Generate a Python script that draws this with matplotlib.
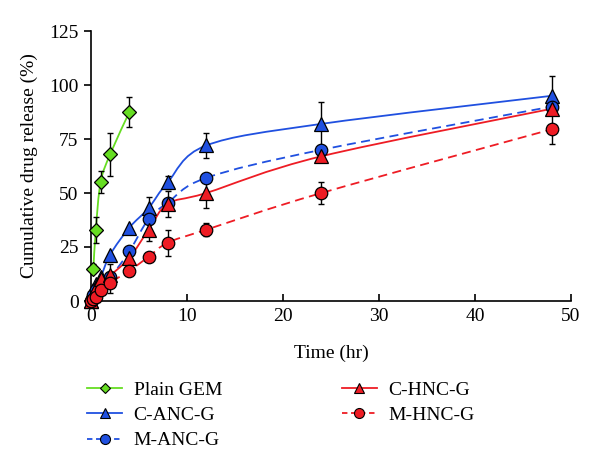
import numpy as np
import matplotlib
matplotlib.use("Agg")
import matplotlib.pyplot as plt
from matplotlib.path import Path
from matplotlib.patches import PathPatch
from matplotlib.lines import Line2D

plt.rcParams['font.family'] = ['Liberation Serif', 'DejaVu Serif']

# ---- data ----
t_gem = [0.25, 0.5, 1, 2, 4]
v_gem = [15, 33, 55, 68, 87.5]
e_gem = [2, 6, 5, 10, 7]

t_all = [0, 0.25, 0.5, 1, 2, 4, 6, 8, 12, 24, 48]
v_canc = [0, 5, 8, 11, 21.5, 34, 43, 55, 72, 82, 95]
e_canc = [0, 0, 0, 0, 0, 0, 5, 3, 6, 10, 9]
v_manc = [0, 3, 5, 8, 11, 23, 38, 45.5, 57, 70, 90]
e_manc = [0, 0, 0, 0, 0, 0, 0, 0, 0, 0, 0]
v_chnc = [0, 3, 6, 10, 12, 20, 33, 45, 50, 67, 89]
e_chnc = [0, 0, 0, 0, 5, 0, 5, 6, 7, 0, 0]
v_mhnc = [0, 1, 2, 5, 8.5, 14, 20.5, 27, 33, 50, 79.5]
e_mhnc = [0, 0, 0, 0, 5, 0, 0, 6, 3, 5, 7]

GREEN = '#66dd22'
BLUE = '#2050e0'
RED = '#ee1c24'


def smooth_path(x, y):
    x = np.asarray(x, float); y = np.asarray(y, float)
    n = len(x)
    verts = [(x[0], y[0])]
    codes = [Path.MOVETO]
    for i in range(n - 1):
        p0 = np.array([x[max(i - 1, 0)], y[max(i - 1, 0)]])
        p1 = np.array([x[i], y[i]])
        p2 = np.array([x[i + 1], y[i + 1]])
        p3 = np.array([x[min(i + 2, n - 1)], y[min(i + 2, n - 1)]])
        c1 = p1 + (p2 - p0) / 6.0
        c2 = p2 - (p3 - p1) / 6.0
        verts += [tuple(c1), tuple(c2), tuple(p2)]
        codes += [Path.CURVE4] * 3
    return Path(verts, codes)


fig = plt.figure(figsize=(6, 4.71), dpi=100)
ax = fig.add_axes([91 / 600, 1 - 301 / 471, (571 - 91) / 600, (301 - 31) / 471])

series = [
    (t_gem, v_gem, e_gem, GREEN, '-', 'D', 7, 'Plain GEM'),
    (t_all, v_canc, e_canc, BLUE, '-', '^', 9.5, 'C-ANC-G'),
    (t_all, v_manc, e_manc, BLUE, '--', 'o', 9, 'M-ANC-G'),
    (t_all, v_chnc, e_chnc, RED, '-', '^', 9.5, 'C-HNC-G'),
    (t_all, v_mhnc, e_mhnc, RED, '--', 'o', 9, 'M-HNC-G'),
]

handles = []
for tx, vy, ey, col, ls, mk, ms, lab in series:
    patch = PathPatch(smooth_path(tx, vy), facecolor='none', edgecolor=col,
                      lw=1.3, ls=(0, (5, 3)) if ls == '--' else '-', zorder=2)
    ax.add_patch(patch)
    ax.errorbar(tx, vy, yerr=ey, fmt='none', ecolor='black', elinewidth=1.0,
                capsize=2.5, capthick=1.0, zorder=3)
    ax.plot(tx, vy, ls='none', marker=mk, ms=ms, mfc=col, mec='black',
            mew=0.9, zorder=4, clip_on=False)
    handles.append(Line2D([], [], color=col, lw=1.3,
                          ls=(0, (3, 2)) if ls == '--' else '-',
                          marker=mk, ms=ms * 0.8, mfc=col, mec='black', mew=0.8,
                          label=lab))

ax.set_xlim(0, 50)
ax.set_ylim(0, 125)
ax.set_xticks([0, 10, 20, 30, 40, 50])
ax.set_yticks([0, 25, 50, 75, 100, 125])
for s in ['top', 'right']:
    ax.spines[s].set_visible(False)
for s in ['left', 'bottom']:
    ax.spines[s].set_linewidth(1.2)
ax.tick_params(axis='x', direction='in', length=5, width=1.2, labelsize=14, pad=5)
ax.tick_params(axis='y', direction='out', length=5, width=1.2, labelsize=14, pad=4)
ax.set_xlabel('Time (hr)', fontsize=14, labelpad=14)
ax.set_ylabel('Cumulative drug release (%)', fontsize=14, labelpad=8)

kw = dict(frameon=False, fontsize=14, handlelength=1.8, handletextpad=0.6,
          labelspacing=0.4, borderpad=0, borderaxespad=0)
leg1 = fig.legend(handles=handles[:3], loc='upper left',
                  bbox_to_anchor=(87 / 600, 1 - 381 / 471), **kw)
leg2 = fig.legend(handles=handles[3:], loc='upper left',
                  bbox_to_anchor=(342 / 600, 1 - 381 / 471), **kw)

fig.savefig('out.png', dpi=100)
